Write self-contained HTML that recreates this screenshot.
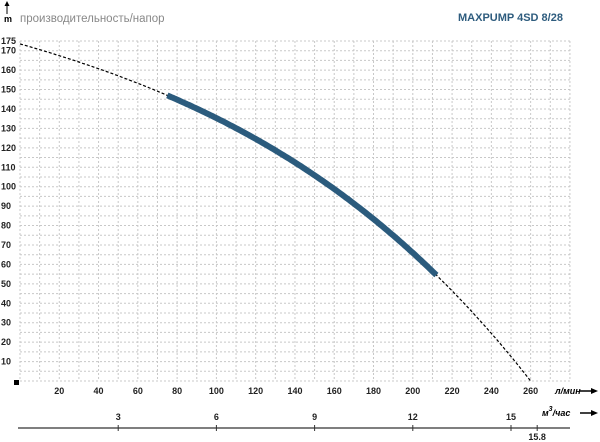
<!DOCTYPE html>
<html><head><meta charset="utf-8"><style>body{margin:0;background:#fff}svg{display:block}</style></head>
<body>
<svg id="s" width="600" height="442" xmlns="http://www.w3.org/2000/svg" font-family="Liberation Sans, sans-serif">
<g id="grid" stroke="#c8c8c8" stroke-width="1" stroke-dasharray="2,2"></g>
<g id="lab" font-size="9" font-weight="bold" fill="#222"></g>
<text x="20" y="22" font-size="11.5" fill="#888">производительность/напор</text>
<text x="458" y="21" font-size="11" font-weight="bold" fill="#2e5c7e">MAXPUMP 4SD 8/28</text>
<text x="4" y="22" font-size="9" font-weight="bold">m</text>
<line x1="7" y1="14" x2="7" y2="4" stroke="#000" stroke-width="1"/>
<polygon points="7,1 4.5,6 9.5,6" fill="#000"/>
<rect x="14" y="380" width="5" height="5" fill="#000"/>
<path id="dash" fill="none" stroke="#000" stroke-width="1.2" stroke-dasharray="3,2"/>
<path id="thick" fill="none" stroke="#2b5b7d" stroke-width="6" stroke-linecap="butt"/>
<text x="555" y="394" font-size="9" font-weight="bold" font-style="italic">л/мин</text>
<line x1="580" y1="391" x2="594" y2="391" stroke="#000" stroke-width="1.5"/><polygon points="598,391 591,388 591,394" fill="#000"/>
<text x="542" y="416" font-size="9" font-weight="bold" font-style="italic">м<tspan dy="-5" font-size="7">3</tspan><tspan dy="5">/час</tspan></text>
<line x1="580" y1="413" x2="594" y2="413" stroke="#000" stroke-width="1.5"/><polygon points="598,413 591,410 591,416" fill="#000"/>
<line x1="18" y1="428" x2="570" y2="428" stroke="#333" stroke-width="1.2"/>
<g id="b" font-size="9" font-weight="bold" fill="#222" text-anchor="middle"></g>
</svg>
<script>
var ns="http://www.w3.org/2000/svg";
function X(q){return 20+1.964*q}function Y(h){return 381-1.943*h}
function el(p,t,a,txt){var e=document.createElementNS(ns,t);for(var k in a)e.setAttribute(k,a[k]);if(txt!=null)e.textContent=txt;document.getElementById(p).appendChild(e);}
for(var i=0;i<=28;i++){el('grid','line',{x1:X(i*10),y1:Y(175),x2:X(i*10),y2:Y(0)});}
for(var h=0;h<=175;h+=5){el('grid','line',{x1:X(0),y1:Y(h),x2:X(280),y2:Y(h)});}
[10,20,30,40,50,60,70,80,90,100,110,120,130,140,150,160,170,175].forEach(function(h){el('lab','text',{x:1,y:Y(h)+3},h)});
for(var q=20;q<=260;q+=20)el('lab','text',{x:X(q),y:394,'text-anchor':'middle'},q);
[[3],[6],[9],[12],[15]].forEach(function(v){var x=X(v[0]*50/3);el('b','text',{x:x,y:420},v[0]);el('b','line',{x1:x,y1:425,x2:x,y2:431,stroke:'#333'});});
var x158=X(15.8*50/3);el('b','text',{x:x158,y:440},'15.8');el('b','line',{x1:x158,y1:425,x2:x158,y2:431,stroke:'#333'});
var P=[[0,173.5],[75,147],[163,96.6],[212,54.5],[260,0]];
function H(q){var s=0;for(var i=0;i<P.length;i++){var t=P[i][1];for(var j=0;j<P.length;j++)if(j!=i)t*=(q-P[j][0])/(P[i][0]-P[j][0]);s+=t;}return s;}
function path(a,b){var d='';for(var q=a;q<=b+0.01;q+=1)d+=(q==a?'M':'L')+X(q).toFixed(1)+','+Y(H(q)).toFixed(1);return d;}
document.getElementById('dash').setAttribute('d',path(0,260));
document.getElementById('thick').setAttribute('d',path(75,212));
</script>
</body></html>
